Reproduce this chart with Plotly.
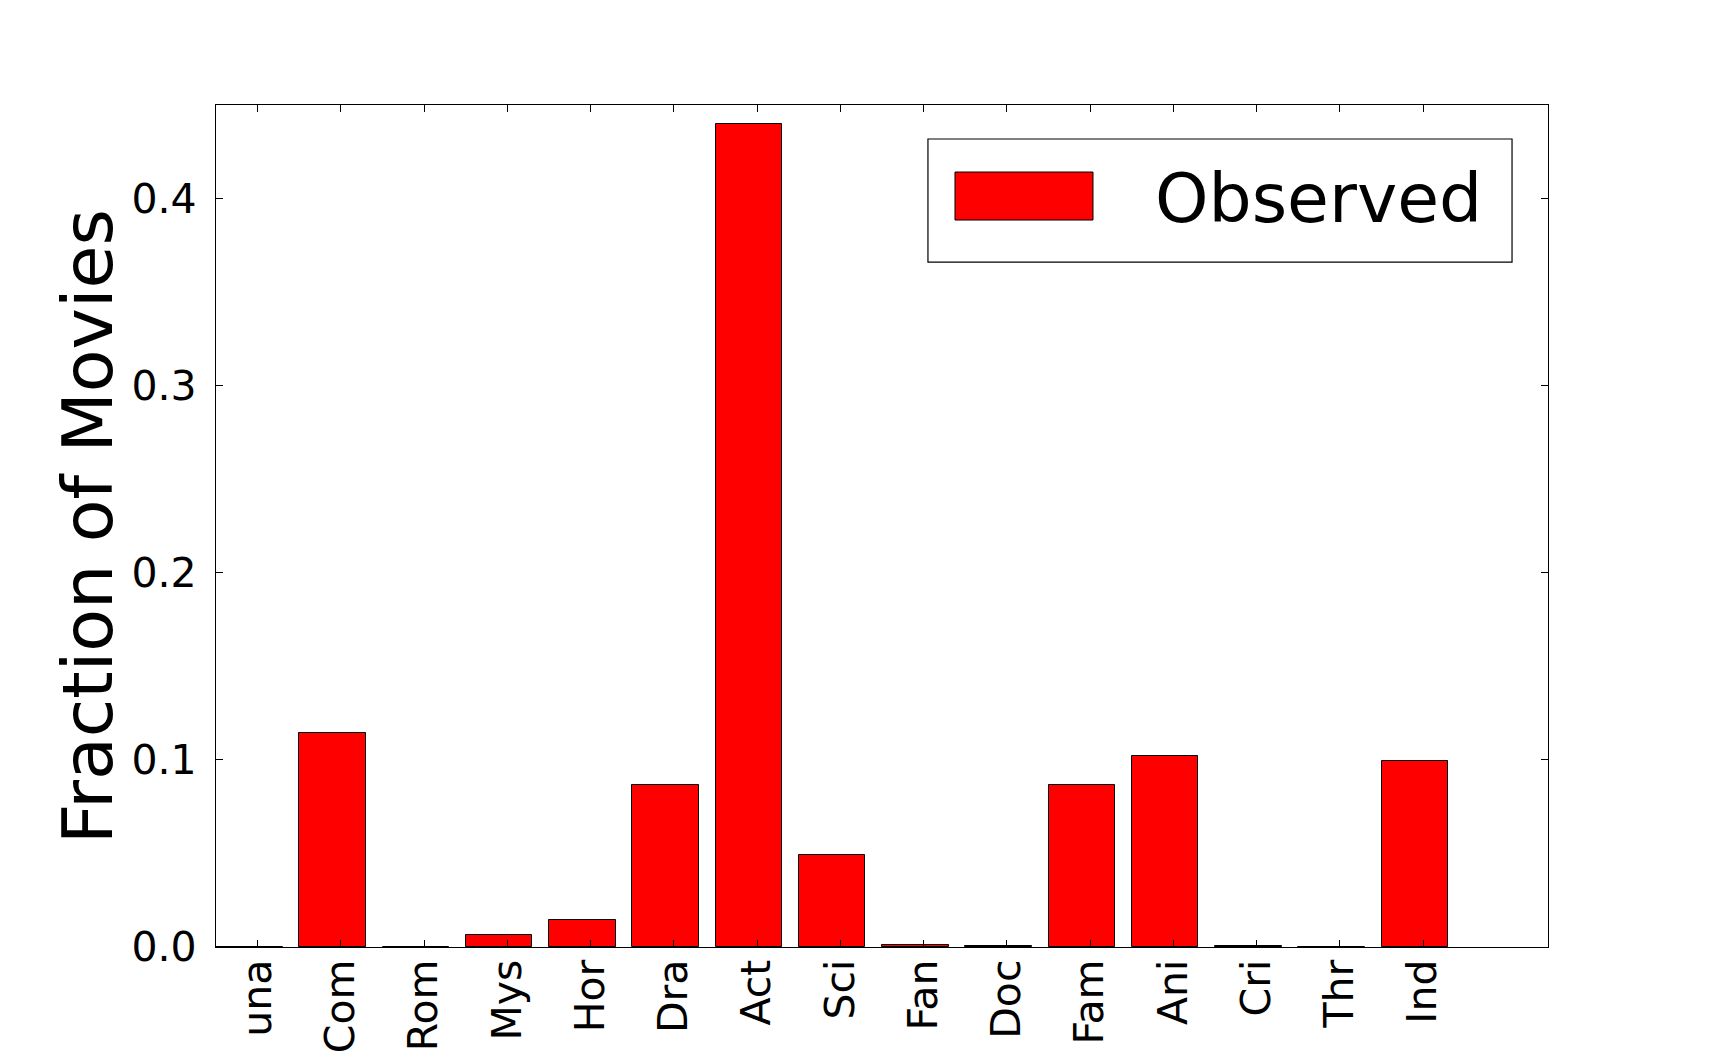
import plotly.graph_objects as go

genres = ["una", "Com", "Rom", "Mys", "Hor", "Dra", "Act", "Sci", "Fan", "Doc",
          "Fam", "Ani", "Cri", "Thr", "Ind"]
observed = [0.0002, 0.1142, 0.0002, 0.0064, 0.0146, 0.0867, 0.4396, 0.0492, 0.0009, 0.0005,
            0.0867, 0.1019, 0.0005, 0.0002, 0.0996]
y_ticks = [0.0, 0.1, 0.2, 0.3, 0.4]

BAR_W = 0.8
idx = list(range(len(genres)))
bar_x = [i + BAR_W / 2 for i in idx]
tick_x = [i + 0.5 for i in idx]

FONT = "DejaVu Sans"

fig = go.Figure()
fig.add_trace(go.Bar(
    x=bar_x, y=observed, width=BAR_W,
    marker=dict(color="#ff0000", line=dict(color="black", width=1)),
    name="Observed", showlegend=False,
))

fig.update_layout(
    width=1718, height=1052,
    margin=dict(l=216, r=170, t=105, b=105),
    paper_bgcolor="white", plot_bgcolor="white",
    font=dict(family=FONT, color="black"),
    bargap=0,
)
fig.update_xaxes(
    range=[0, 16], tickmode="array", tickvals=tick_x, ticktext=genres,
    tickangle=-90, tickfont=dict(size=41, family=FONT, color="black"),
    ticks="inside", ticklen=7, tickwidth=1, tickcolor="black",
    showline=True, linecolor="black", linewidth=1.3, mirror="ticks",
    showgrid=False, zeroline=False, ticklabelstandoff=-5, automargin=False,
)
fig.update_yaxes(
    range=[0, 0.45], tickmode="array", tickvals=y_ticks,
    ticktext=[f"{v:.1f}" for v in y_ticks],
    tickfont=dict(size=41, family=FONT, color="black"),
    ticks="inside", ticklen=7, tickwidth=1, tickcolor="black",
    showline=True, linecolor="black", linewidth=1.3, mirror="ticks",
    showgrid=False, zeroline=False, ticklabelstandoff=10, automargin=False,
)

# y-axis title
fig.add_annotation(xref="paper", yref="paper", x=-0.0961, y=0.5,
                   xanchor="center", yanchor="middle", showarrow=False, textangle=-90,
                   text="Fraction of Movies", font=dict(size=70, family=FONT, color="black"))

# legend box drawn manually (matplotlib-style large legend)
fig.add_shape(type="rect", xref="paper", yref="paper",
              x0=0.5345, x1=0.973, y0=0.8135, y1=0.9596,
              line=dict(color="black", width=1.2), fillcolor="white", layer="above")
fig.add_shape(type="rect", xref="paper", yref="paper",
              x0=0.5548, x1=0.6584, y0=0.8634, y1=0.9204,
              line=dict(color="black", width=1), fillcolor="#ff0000", layer="above")
fig.add_annotation(xref="paper", yref="paper", x=0.7035, y=0.8895,
                   xanchor="left", yanchor="middle", showarrow=False,
                   text="Observed", font=dict(size=68, family=FONT, color="black"))

fig.write_html("out.html")
